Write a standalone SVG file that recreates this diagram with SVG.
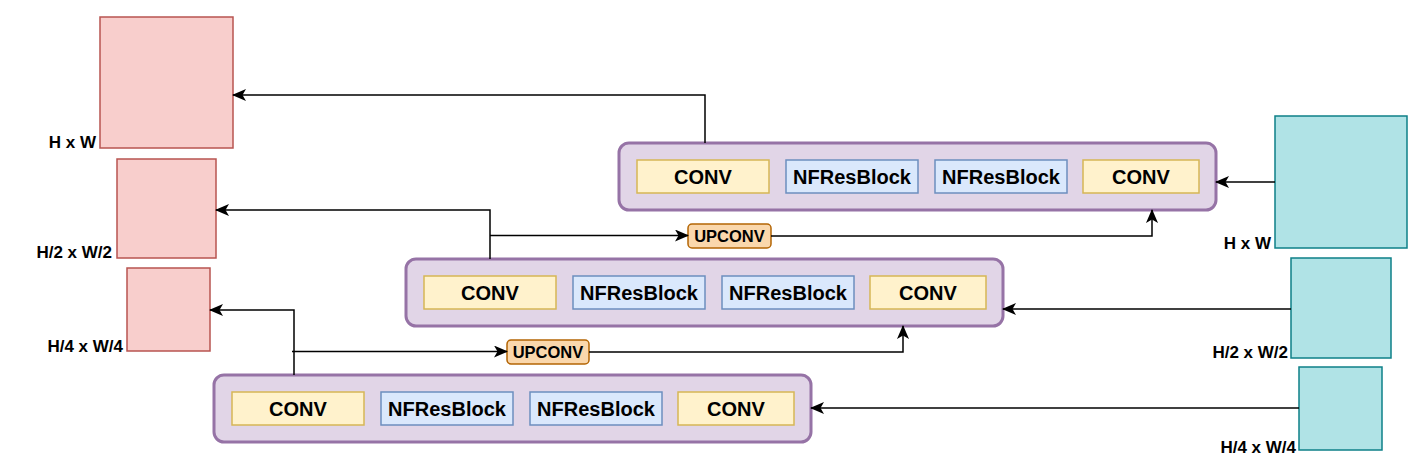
<svg xmlns="http://www.w3.org/2000/svg" width="1422" height="474" viewBox="0 0 1422 474">
<style>
text{font-family:"Liberation Sans",Arial,sans-serif;font-weight:bold;fill:#000}
.red{fill:#f8cecc;stroke:#b85450;stroke-width:1.5}
.teal{fill:#b0e3e6;stroke:#0e8088;stroke-width:1.5}
.cont{fill:#e1d5e7;stroke:#9673a6;stroke-width:3}
.conv{fill:#fff2cc;stroke:#d6b656;stroke-width:1.5}
.nf{fill:#dae8fc;stroke:#6c8ebf;stroke-width:1.5}
.up{fill:#fad7ac;stroke:#b46504;stroke-width:1.5}
.lbl{font-size:20px;text-anchor:middle}
.ulbl{font-size:16.5px;text-anchor:middle}
.dim{font-size:17px;text-anchor:end}
.edge{fill:none;stroke:#000;stroke-width:1.5}
</style>
<defs>
<marker id="arr" viewBox="0 0 14 12" refX="13" refY="6" markerWidth="14" markerHeight="12" markerUnits="userSpaceOnUse" orient="auto">
<path d="M0,0 L14,6 L0,12 L3.5,6 Z" fill="#000"/>
</marker>
</defs>

<g id="out-hw"><rect class="red" x="100" y="17" width="133" height="131"/><text class="dim" x="96" y="148">H x W</text></g>
<g id="out-h2"><rect class="red" x="117" y="159" width="99" height="99"/><text class="dim" x="112" y="258">H/2 x W/2</text></g>
<g id="out-h4"><rect class="red" x="127" y="268" width="83" height="83"/><text class="dim" x="123" y="352">H/4 x W/4</text></g>

<g id="in-hw"><rect class="teal" x="1275" y="116" width="132" height="132"/><text class="dim" x="1271" y="249">H x W</text></g>
<g id="in-h2"><rect class="teal" x="1291" y="258" width="100" height="100"/><text class="dim" x="1288" y="358">H/2 x W/2</text></g>
<g id="in-h4"><rect class="teal" x="1299" y="367" width="83" height="83"/><text class="dim" x="1296" y="453">H/4 x W/4</text></g>

<g id="level1">
<rect class="cont" x="619" y="143" width="597" height="67" rx="10"/>
<rect class="conv" x="637" y="160" width="132" height="33"/><text class="lbl" x="703" y="184">CONV</text>
<rect class="nf" x="786" y="160" width="132" height="33"/><text class="lbl" x="852" y="184">NFResBlock</text>
<rect class="nf" x="935" y="160" width="132" height="33"/><text class="lbl" x="1001" y="184">NFResBlock</text>
<rect class="conv" x="1083" y="160" width="116" height="33"/><text class="lbl" x="1141" y="184">CONV</text>
</g>
<g id="level2">
<rect class="cont" x="406" y="259" width="597" height="67" rx="10"/>
<rect class="conv" x="424" y="276" width="132" height="33"/><text class="lbl" x="490" y="300">CONV</text>
<rect class="nf" x="573" y="276" width="132" height="33"/><text class="lbl" x="639" y="300">NFResBlock</text>
<rect class="nf" x="722" y="276" width="132" height="33"/><text class="lbl" x="788" y="300">NFResBlock</text>
<rect class="conv" x="870" y="276" width="116" height="33"/><text class="lbl" x="928" y="300">CONV</text>
</g>
<g id="level3">
<rect class="cont" x="214" y="375" width="597" height="67" rx="10"/>
<rect class="conv" x="232" y="392" width="132" height="33"/><text class="lbl" x="298" y="416">CONV</text>
<rect class="nf" x="381" y="392" width="132" height="33"/><text class="lbl" x="447" y="416">NFResBlock</text>
<rect class="nf" x="530" y="392" width="132" height="33"/><text class="lbl" x="596" y="416">NFResBlock</text>
<rect class="conv" x="678" y="392" width="116" height="33"/><text class="lbl" x="736" y="416">CONV</text>
</g>
<g id="upconv1"><rect class="up" x="688" y="224" width="83" height="24" rx="4"/><text class="ulbl" x="729.5" y="242">UPCONV</text></g>
<g id="upconv2"><rect class="up" x="507" y="340" width="82" height="24" rx="4"/><text class="ulbl" x="548" y="358">UPCONV</text></g>

<g id="connectors">
<path class="edge" d="M705,143 V95 H233" marker-end="url(#arr)"/>
<path class="edge" d="M490,259 V210 H216" marker-end="url(#arr)"/>
<path class="edge" d="M294,375 V310 H210" marker-end="url(#arr)"/>
<path class="edge" d="M490,235.5 H688" marker-end="url(#arr)"/>
<path class="edge" d="M771,236 H1152 V210" marker-end="url(#arr)"/>
<path class="edge" d="M292,351.5 H507" marker-end="url(#arr)"/>
<path class="edge" d="M589,352 H903 V326" marker-end="url(#arr)"/>
<path class="edge" d="M1275,182 H1216" marker-end="url(#arr)"/>
<path class="edge" d="M1291,309 H1003" marker-end="url(#arr)"/>
<path class="edge" d="M1299,408 H811" marker-end="url(#arr)"/>
</g>
</svg>
